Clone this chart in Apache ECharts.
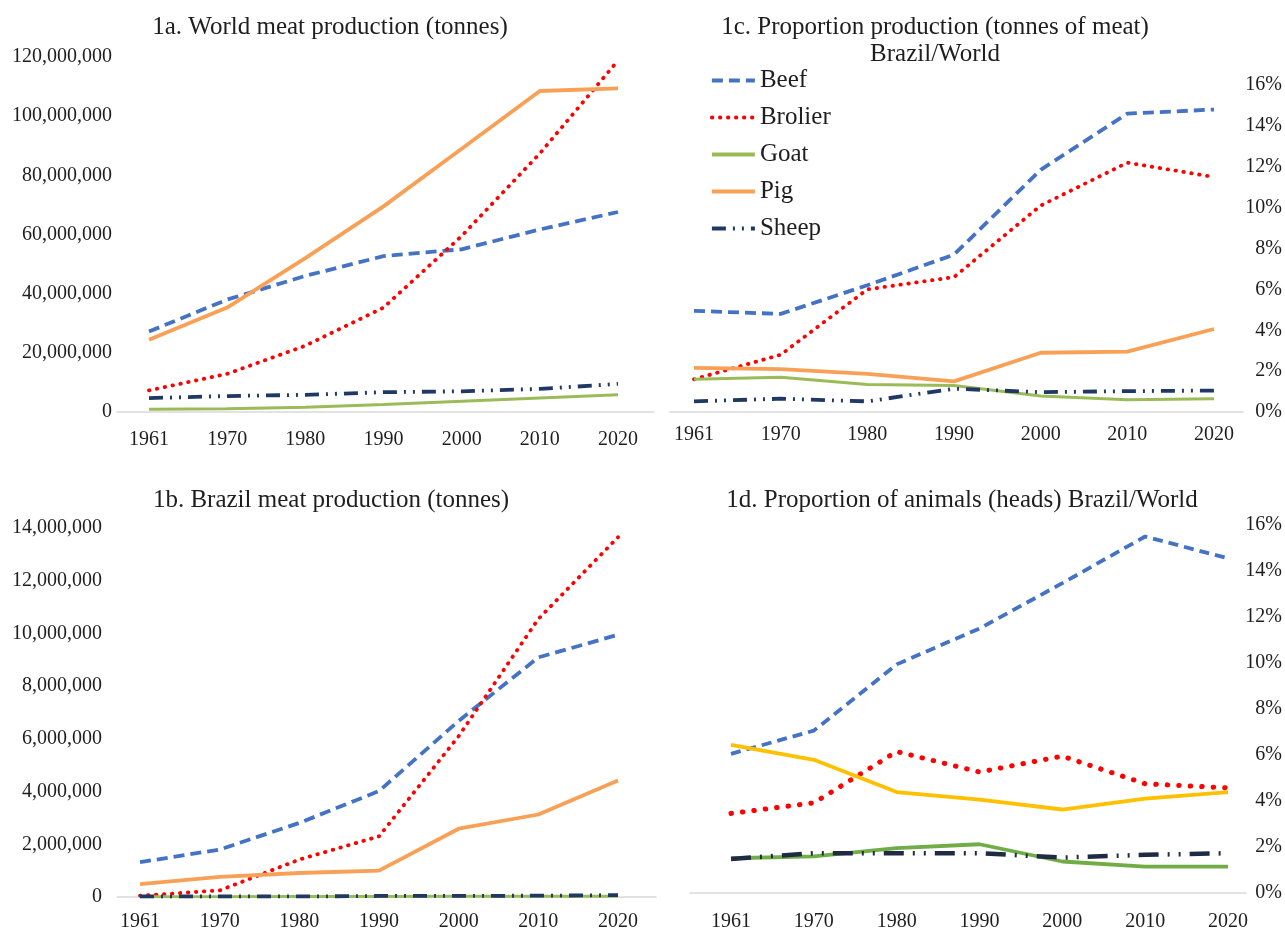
<!DOCTYPE html>
<html><head><meta charset="utf-8">
<script src="https://cdn.jsdelivr.net/npm/echarts@6/dist/echarts.min.js"></script>
<style>html,body{margin:0;padding:0;background:#fff}#c{width:1285px;height:933px}</style>
</head><body><div id="c"></div>
<script>
// ---- data ----
const years = ['1961','1970','1980','1990','2000','2010','2020'];
const legendNames = ['Beef','Brolier','Goat','Pig','Sheep'];
const titles = ['1a. World meat production (tonnes)','1b. Brazil meat production (tonnes)','1c. Proportion production (tonnes of meat)\nBrazil/World','1d. Proportion of animals (heads) Brazil/World'];

// 1a World meat production (tonnes)
const worldBeef    = [27200000, 38000000, 46000000, 52700000, 55000000, 61700000, 67600000];
const worldBroiler = [7300000, 12900000, 22400000, 35300000, 59500000, 87400000, 118800000];
const worldGoat    = [900000, 1100000, 1600000, 2500000, 3600000, 4700000, 5800000];
const worldPig     = [24400000, 35300000, 52000000, 69500000, 89000000, 108500000, 109400000];
const worldSheep   = [4700000, 5400000, 5800000, 6700000, 7000000, 7800000, 9500000];

// 1b Brazil meat production (tonnes)
const brBeef    = [1320000, 1800000, 2810000, 4020000, 6680000, 9090000, 9950000];
const brBroiler = [50000, 250000, 1420000, 2300000, 6100000, 10550000, 13650000];
const brGoat    = [10000, 10000, 20000, 20000, 30000, 30000, 30000];
const brPig     = [490000, 760000, 910000, 1000000, 2590000, 3130000, 4420000];
const brSheep   = [20000, 20000, 20000, 40000, 40000, 50000, 70000];

// 1c Proportion production Brazil/World (%)
const propBeef    = [4.95, 4.8, 6.2, 7.7, 11.85, 14.6, 14.8];
const propBroiler = [1.6, 2.8, 6.0, 6.6, 10.1, 12.2, 11.5];
const propGoat    = [1.6, 1.7, 1.35, 1.3, 0.78, 0.6, 0.65];
const propPig     = [2.16, 2.1, 1.87, 1.5, 2.9, 2.95, 4.06];
const propSheep   = [0.52, 0.65, 0.52, 1.14, 0.97, 1.02, 1.05];

// 1d Proportion of animals (heads) Brazil/World (%)
const headBeef    = [6.05, 7.06, 9.94, 11.5, 13.47, 15.5, 14.55];
const headBroiler = [3.46, 3.92, 6.15, 5.26, 5.95, 4.75, 4.57];
const headGoat    = [1.51, 1.59, 1.95, 2.12, 1.37, 1.15, 1.15];
const headPig     = [6.44, 5.79, 4.39, 4.06, 3.63, 4.1, 4.39];
const headSheep   = [1.48, 1.73, 1.73, 1.73, 1.54, 1.66, 1.73];

// ---- styles ----
const FONT = '"Liberation Serif", "Times New Roman", serif';
const TXT = '#1e1e1e';
const AXC = '#d9d9d9';
const st = {
  Beef:    {color:'#4472C4', width:3.8, type:[11,6]},
  Brolier: {color:'#FF0000', width:3.8, type:[0.5,7.5], cap:'round'},
  Goat:    {color:'#9BBB59', width:3},
  Pig:     {color:'#F8A055', width:3.8},
  Sheep:   {color:'#1F3864', width:3.8, type:[14,7,2,7,2,7]}
};
const stD = {
  Beef:    {color:'#4472C4', width:3.8, type:[10,6]},
  Brolier: {color:'#FF0000', width:5, type:[0.5,11], cap:'round'},
  Goat:    {color:'#70AD47', width:3.8},
  Pig:     {color:'#FFC000', width:3.8},
  Sheep:   {color:'#1F2A44', width:4.5, type:[20,9,2,9,2,9]}
};

const chart = echarts.init(document.getElementById('c'));

// grids: base (axis line) + data per panel
const grids = [
  {left:117, right:631, top:57, bottom:521},   // 0 base 1a
  {left:149, right:667, top:57, bottom:521},   // 1 data 1a
  {left:117, right:629, top:528, bottom:36},   // 2 base 1b
  {left:140, right:667, top:528, bottom:36},   // 3 data 1b
  {left:670, right:42, top:85, bottom:521},    // 4 base 1c
  {left:694, right:71, top:85, bottom:521},    // 5 data 1c
  {left:690, right:39, top:525, bottom:40},    // 6 base 1d
  {left:731, right:57, top:525, bottom:40}     // 7 data 1d
];

function baseX(gi){
  return {gridIndex:gi, type:'value', min:0, max:1,
    axisLine:{show:true, onZero:false, lineStyle:{color:AXC, width:1.5}},
    axisTick:{show:false}, axisLabel:{show:false}, splitLine:{show:false}};
}
function baseY(gi){ return {gridIndex:gi, type:'value', min:0, max:1, show:false}; }
function dataX(gi, margin){
  return {gridIndex:gi, type:'category', data:years, boundaryGap:false,
    axisLine:{show:false}, axisTick:{show:false}, splitLine:{show:false},
    axisLabel:{fontFamily:FONT, fontSize:20, color:TXT, margin:margin}};
}
function dataY(gi, opts){
  return Object.assign({gridIndex:gi, type:'value',
    axisLine:{show:false}, axisTick:{show:false}, splitLine:{show:false}}, opts);
}

const xAxes = [
  baseX(0), dataX(1,18), baseX(2), dataX(3,15), baseX(4), dataX(5,13), baseX(6), dataX(7,19)
];
const numFmt = v => Number(v).toLocaleString('en-US');
const yAxes = [
  baseY(0),
  dataY(1,{min:0, max:120000000, interval:20000000,
    axisLabel:{fontFamily:FONT, fontSize:20, color:TXT, margin:37, formatter:numFmt}}),
  baseY(2),
  dataY(3,{min:0, max:14000000, interval:2000000,
    axisLabel:{fontFamily:FONT, fontSize:20, color:TXT, margin:38, formatter:numFmt}}),
  baseY(4),
  dataY(5,{position:'right', min:0, max:16, interval:2,
    axisLabel:{fontFamily:FONT, fontSize:20, color:TXT, margin:68, align:'right', formatter:v=>v+'%'}}),
  baseY(6),
  dataY(7,{position:'right', min:0, max:16, interval:2,
    axisLabel:{fontFamily:FONT, fontSize:20, color:TXT, margin:54, align:'right', formatter:v=>v+'%'}})
];

function line(name, data, ai, style){
  return {type:'line', name:name, data:data, xAxisIndex:ai, yAxisIndex:ai,
    symbol:'none', silent:true, lineStyle:Object.assign({}, style),
    itemStyle:{color:style.color}};
}

const panel = (ai, arrs, sty) => legendNames.map((n,i)=>line(n, arrs[i], ai, sty[n]));

const series = [].concat(
  panel(5, [propBeef, propBroiler, propGoat, propPig, propSheep], st),
  panel(1, [worldBeef, worldBroiler, worldGoat, worldPig, worldSheep], st),
  panel(3, [brBeef, brBroiler, brGoat, brPig, brSheep], st),
  panel(7, [headBeef, headBroiler, headGoat, headPig, headSheep], stD)
);

const titleStyle = {fontFamily:FONT, fontSize:25, fontWeight:'normal', color:TXT};
chart.setOption({
  animation:false,
  backgroundColor:'#fff',
  title:[
    {text:titles[0], left:325, top:10, textAlign:'center', textStyle:titleStyle},
    {text:titles[1], left:326, top:483, textAlign:'center', textStyle:titleStyle},
    {text:titles[2], left:930, top:9, textAlign:'center', textStyle:Object.assign({lineHeight:27}, titleStyle)},
    {text:titles[3], left:957, top:483, textAlign:'center', textStyle:titleStyle}
  ],
  legend:{
    data:legendNames, orient:'vertical', left:705, top:63,
    itemWidth:43, itemHeight:14, itemGap:12, selectedMode:false,
    itemStyle:{opacity:0, color:'transparent', borderColor:'transparent', borderWidth:0},
    lineStyle:{width:3.8},
    textStyle:{fontFamily:FONT, fontSize:25, color:TXT, lineHeight:25}
  },
  grid:grids,
  xAxis:xAxes,
  yAxis:yAxes,
  series:series
});
</script>
</body></html>
